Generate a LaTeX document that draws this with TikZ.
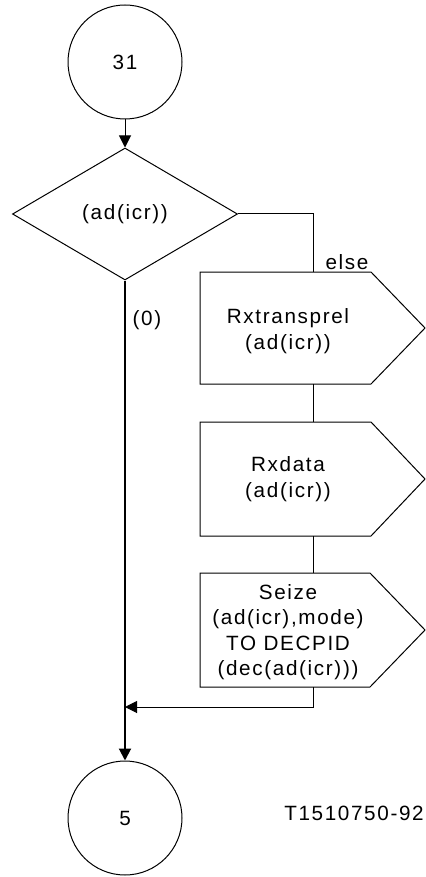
\documentclass[tikz,border=0pt]{standalone}
\usepackage{fontspec}
\setmainfont[LetterSpace=8]{Liberation Sans}
\usetikzlibrary{arrows.meta,shapes.geometric}
\begin{document}
\begin{tikzpicture}[x=0.75pt,y=-0.75pt,
  conn/.style={line width=0.75pt},
  mainline/.style={line width=1.5pt},
  tipped/.style={-{Triangle[length=9pt,width=9pt]}},
  txt/.style={font=\fontsize{15.5}{19}\selectfont, align=center, inner sep=0pt},
  conncircle/.style={circle, draw, line width=0.75pt, minimum size=85.5pt, inner sep=0pt, font=\fontsize{15.5}{19}\selectfont},
  decision/.style={diamond, draw, line width=0.75pt, minimum width=168.75pt, minimum height=99pt, inner sep=0pt, font=\fontsize{15.5}{19}\selectfont},
  outbox/.style={line width=0.75pt, line join=miter}
]
\useasboundingbox (0,0) rectangle (425,877);

% connector circles
\node[conncircle] (c31) at (125,62) {31};
\node[conncircle] (c5) at (125,818) {5};

% decision
\node[decision] (dec) at (125,214) {(ad(icr))};

% output boxes (outline coordinates)
\coordinate (b1t) at (313,272);
\coordinate (b1b) at (313,384);
\coordinate (b2t) at (313,422);
\coordinate (b2b) at (313,536);
\coordinate (b3t) at (313,573);
\coordinate (b3b) at (313,687);
\coordinate (join) at (125,707);

\draw[outbox] (200,272) -- (371,272) -- (425,328) -- (371,384) -- (200,384) -- cycle;
\node[txt] (b1) at (288,331) {Rxtransprel\\(ad(icr))};

\draw[outbox] (200,422) -- (371,422) -- (425,479) -- (371,536) -- (200,536) -- cycle;
\node[txt] (b2) at (288,479) {Rxdata\\(ad(icr))};

\draw[outbox] (200,573) -- (370,573) -- (425,630) -- (370,687) -- (200,687) -- cycle;
\node[txt] (b3) at (288,632) {Seize\\(ad(icr),mode)\\TO DECPID\\(dec(ad(icr)))};

% connectors
\draw[conn,tipped] (c31) -- (dec);
\draw[mainline,tipped] (dec.south) -- (c5.north);
\draw[conn] (dec.east) -| (b1t);
\draw[conn] (b1b) -- (b2t);
\draw[conn] (b2b) -- (b3t);
\draw[conn,tipped] (b3b) |- (join);

% labels
\node[txt] (lelse) at (347,262) {else};
\node[txt] (lzero) at (147,320) {(0)};
\node[txt,anchor=east] (tag) at (424,813) {T1510750-92};
\end{tikzpicture}
\end{document}
